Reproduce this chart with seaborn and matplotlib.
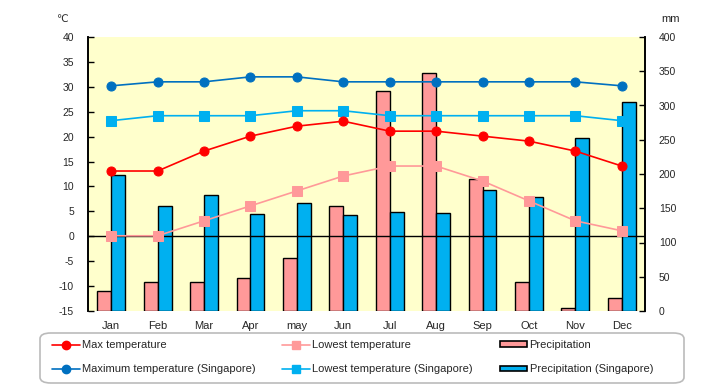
import matplotlib
matplotlib.use("Agg")
import matplotlib.pyplot as plt
import seaborn as sns
import pandas as pd
import numpy as np
from matplotlib.lines import Line2D
from matplotlib.patches import Patch, FancyBboxPatch

months = ["Jan", "Feb", "Mar", "Apr", "may", "Jun", "Jul", "Aug", "Sep", "Oct", "Nov", "Dec"]
max_temp = [13.1, 13.1, 17.1, 20.1, 22.1, 23.1, 21.1, 21.1, 20.1, 19.1, 17.1, 14.1]
low_temp = [0.1, 0.1, 3.1, 6.1, 9.1, 12.1, 14.1, 14.1, 11.1, 7.1, 3.1, 1.1]
max_temp_sg = [30.2, 31.0, 31.0, 32.0, 32.0, 31.0, 31.0, 31.0, 31.0, 31.0, 31.0, 30.2]
low_temp_sg = [23.2, 24.2, 24.2, 24.2, 25.2, 25.2, 24.2, 24.2, 24.2, 24.2, 24.2, 23.2]
precip = [29, 42, 42, 48, 78, 154, 321, 347, 192, 42, 5, 19]
precip_sg = [198, 154, 170, 141, 157, 140, 144, 143, 176, 167, 252, 305]

left_ticks = [-15, -10, -5, 0, 5, 10, 15, 20, 25, 30, 35, 40]
right_ticks = [0, 50, 100, 150, 200, 250, 300, 350, 400]

C_RED = "#FF0000"
C_PINK = "#FF9999"
C_DBLUE = "#0070C0"
C_LBLUE = "#00B0F0"
BG = "#FFFFCC"

sns.set_theme(style="white")
plt.rcParams["font.family"] = ["Liberation Sans", "DejaVu Sans"]
FS = 7.5
LFS = 8

fig = plt.figure(figsize=(7.2, 3.85), dpi=100)
ax = fig.add_axes([88 / 720, 1 - 311 / 385, (645 - 88) / 720, (311 - 37) / 385])
ax2 = ax.twinx()

# bars on right axis
df_bar = pd.DataFrame({
    "month": months * 2,
    "value": precip + precip_sg,
    "series": ["Precipitation"] * 12 + ["Precipitation (Singapore)"] * 12,
})
sns.barplot(data=df_bar, x="month", y="value", hue="series", order=months,
            hue_order=["Precipitation", "Precipitation (Singapore)"],
            palette=[C_PINK, C_LBLUE], width=0.6, edgecolor="black", linewidth=1,
            saturation=1, ax=ax2, legend=False)

# lines on left axis
xs = list(range(len(months)))
sns.lineplot(x=xs, y=low_temp_sg, ax=ax, color=C_LBLUE, marker="s", markersize=7,
             markeredgecolor=C_LBLUE, linewidth=1.2, sort=False)
sns.lineplot(x=xs, y=max_temp_sg, ax=ax, color=C_DBLUE, marker="o", markersize=6.5,
             markeredgecolor=C_DBLUE, linewidth=1.2, sort=False)
sns.lineplot(x=xs, y=low_temp, ax=ax, color=C_PINK, marker="s", markersize=7,
             markeredgecolor=C_PINK, linewidth=1.2, sort=False)
sns.lineplot(x=xs, y=max_temp, ax=ax, color=C_RED, marker="o", markersize=6.5,
             markeredgecolor=C_RED, linewidth=1.2, sort=False)
ax.axhline(0, color="black", linewidth=1, zorder=1)

ax.set_zorder(ax2.get_zorder() + 1)
ax.patch.set_visible(False)
ax2.patch.set_visible(True)
ax2.patch.set_facecolor(BG)

ax.set_xlim(-0.5, 11.5)
ax2.set_xlim(-0.5, 11.5)
ax.set_ylim(-15, 40)
ax2.set_ylim(0, 400)
ax.set_yticks(left_ticks)
ax2.set_yticks(right_ticks)
ax.set_xticks(xs)
ax.set_xticklabels(months)
ax2.set_xlabel("")
ax2.set_ylabel("")
ax.set_xlabel("")
ax.set_ylabel("")

for a in (ax, ax2):
    for s in ("top", "bottom"):
        a.spines[s].set_visible(False)
    a.spines["left"].set_color("black")
    a.spines["right"].set_color("black")
    a.spines["left"].set_linewidth(1.2)
    a.spines["right"].set_linewidth(1.2)
    a.grid(False)

ax.tick_params(axis="y", which="major", direction="in", length=4, width=1, color="black",
               labelsize=FS, pad=10, left=True, right=False)
ax2.tick_params(axis="y", which="major", direction="in", length=4, width=1, color="black",
                labelsize=FS, pad=10, right=True, left=False)
ax.tick_params(axis="x", length=0, labelsize=8, pad=7, bottom=True)
ax2.tick_params(axis="x", length=0, labelbottom=False, bottom=False)
ax.set_yticklabels([str(v) for v in left_ticks])
ax2.set_yticklabels([str(v) for v in right_ticks])

fig.text(62 / 720, 1 - 19 / 385, "℃", fontsize=FS, ha="center", va="center",
         family=["DejaVu Sans"])
fig.text(671 / 720, 1 - 19 / 385, "mm", fontsize=8, ha="center", va="center")

# legend
handles = [
    Line2D([], [], color=C_RED, marker="o", markersize=6, lw=1.2),
    Line2D([], [], color=C_DBLUE, marker="o", markersize=6, lw=1.2),
    Line2D([], [], color=C_PINK, marker="s", markersize=6, lw=1.2),
    Line2D([], [], color=C_LBLUE, marker="s", markersize=6, lw=1.2),
    Patch(facecolor=C_PINK, edgecolor="black", linewidth=1.2),
    Patch(facecolor=C_LBLUE, edgecolor="black", linewidth=1.2),
]
labels = ["Max temperature", "Maximum temperature (Singapore)",
          "Lowest temperature", "Lowest temperature (Singapore)",
          "Precipitation", "Precipitation (Singapore)"]
leg = fig.legend(handles, labels, ncol=3, loc="upper left",
                 bbox_to_anchor=(52 / 720, 1 - 340 / 385), frameon=False,
                 fontsize=LFS, handlelength=2.5, handletextpad=0.2,
                 columnspacing=2.4, labelspacing=1.3, borderpad=0,
                 borderaxespad=0, handleheight=0.45)

box = FancyBboxPatch((40 / 720, 1 - 383 / 385), (684 - 40) / 720, (383 - 333) / 385,
                     boxstyle="round,pad=0,rounding_size=0.015",
                     transform=fig.transFigure, facecolor="white",
                     edgecolor="#BBBBBB", linewidth=1.2, zorder=-1)
fig.patches.append(box)

fig.savefig("out.png", dpi=100)
